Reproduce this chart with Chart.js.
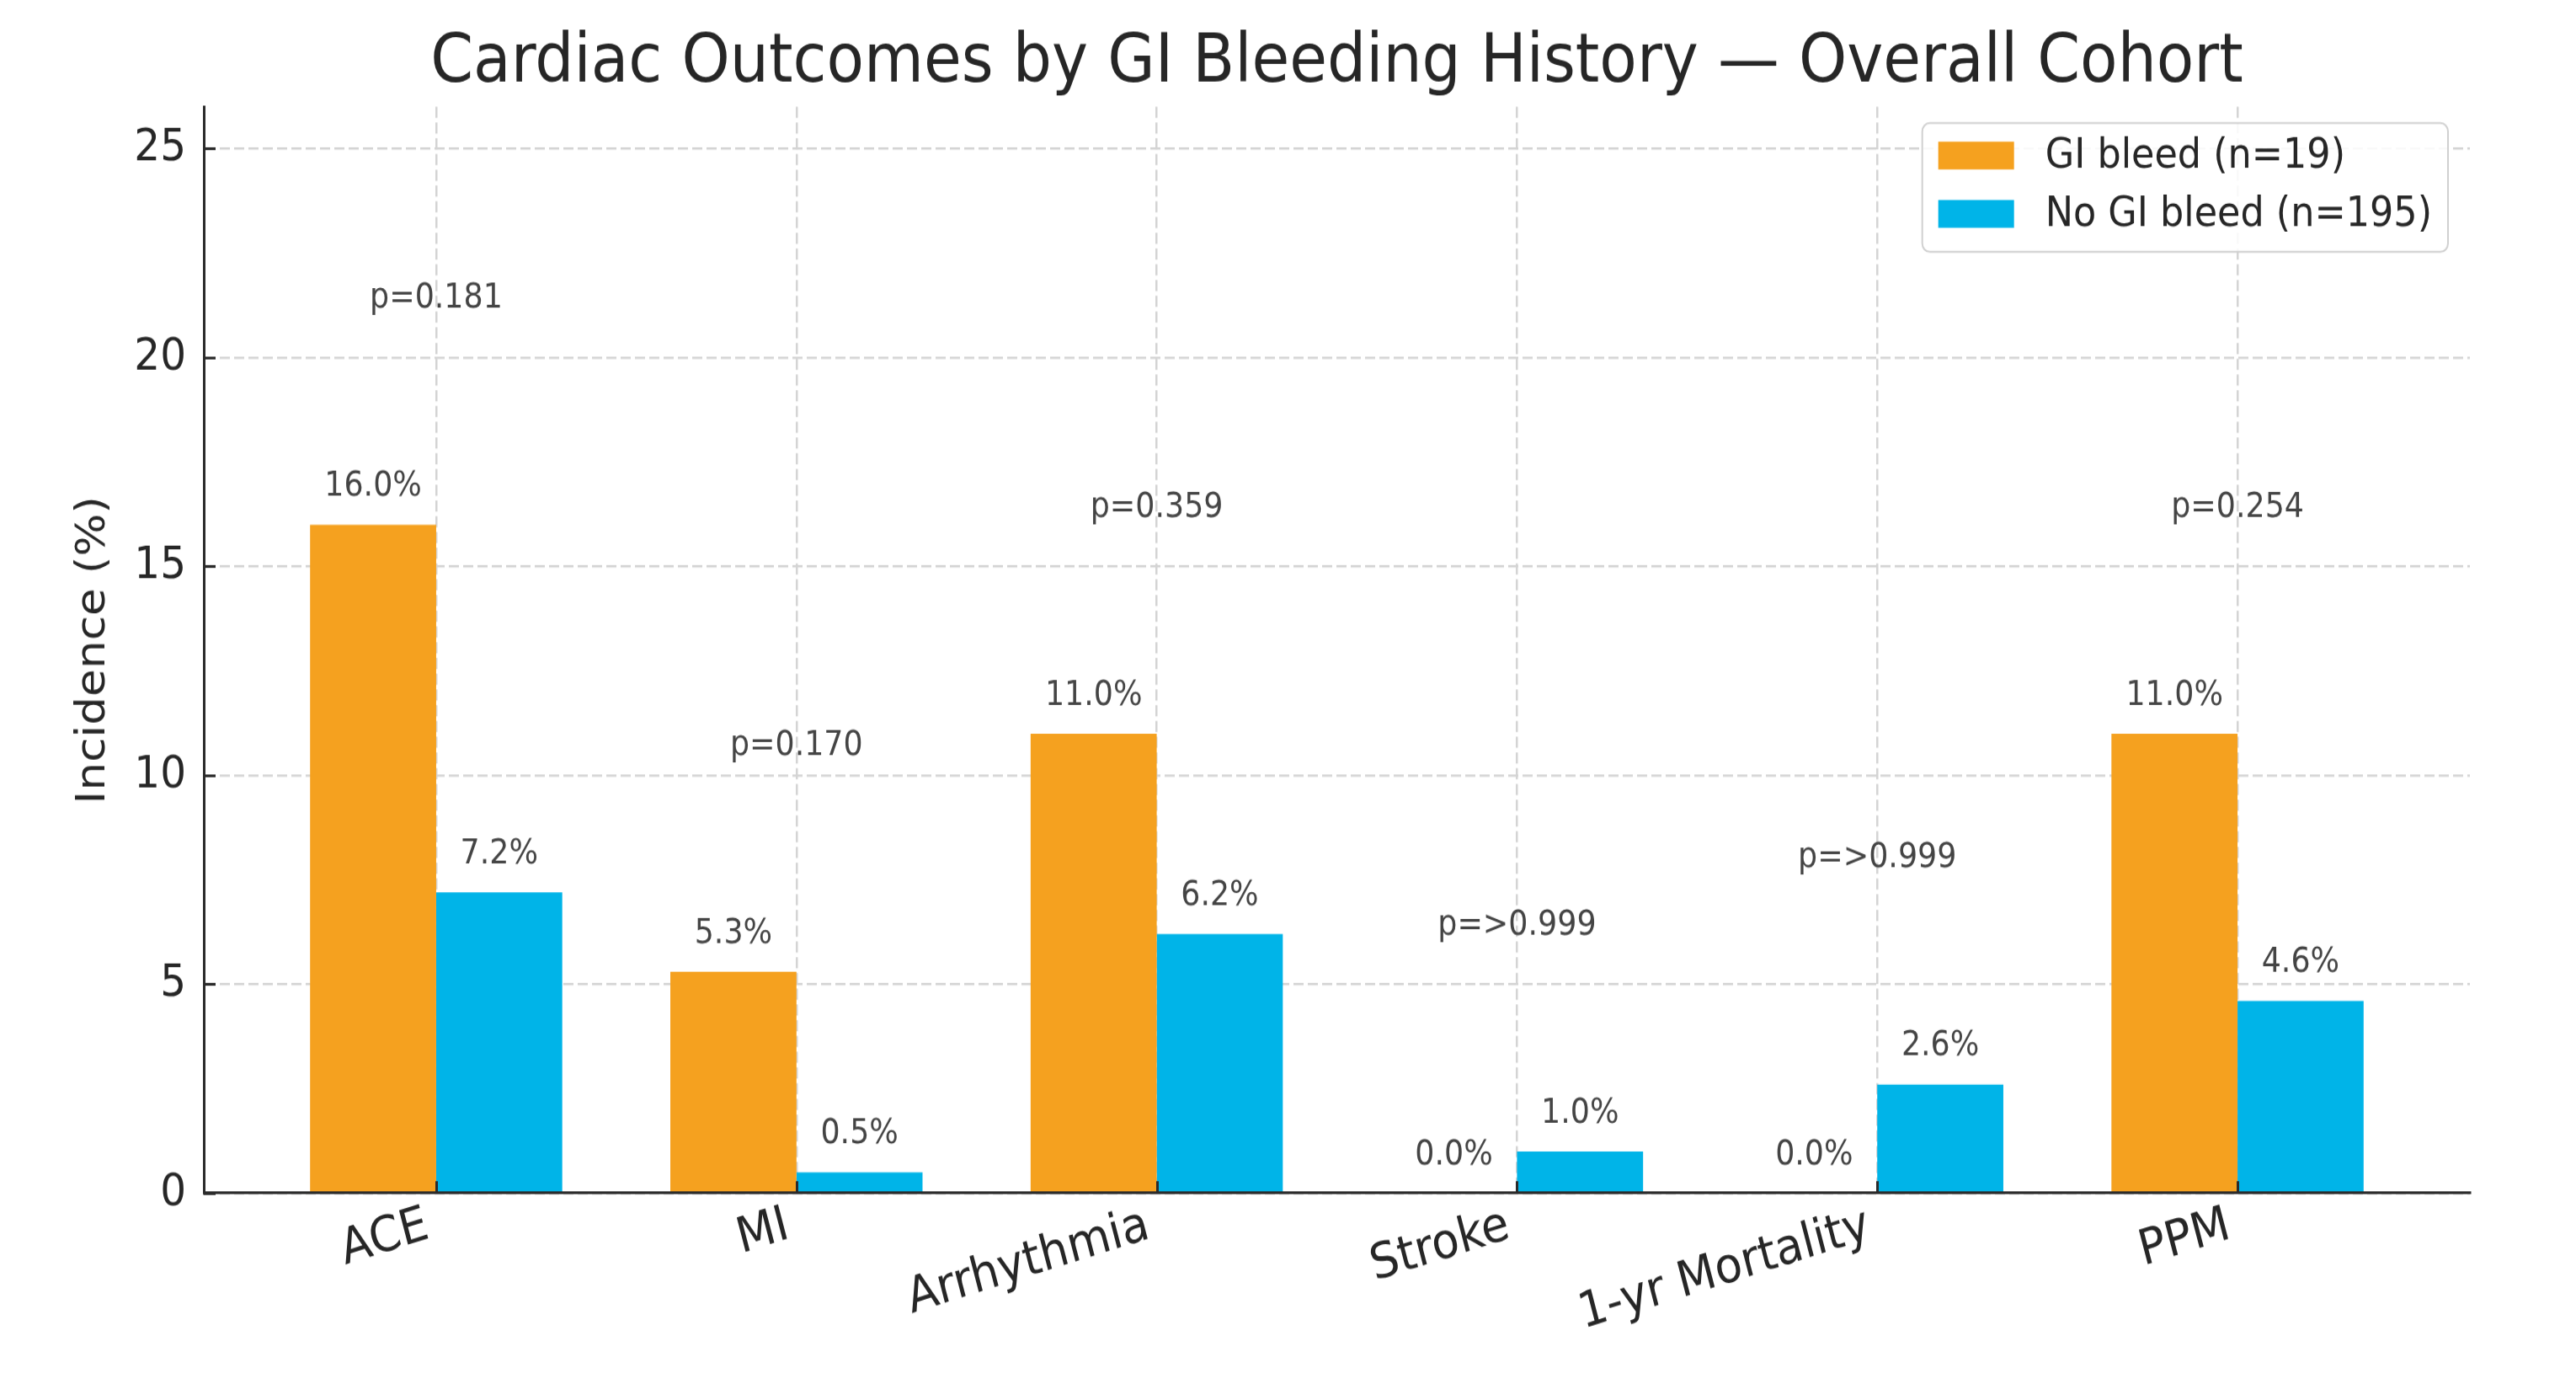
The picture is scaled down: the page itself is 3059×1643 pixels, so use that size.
<!DOCTYPE html>
<html>
<head>
<meta charset="utf-8">
<script src="https://cdn.jsdelivr.net/npm/chart.js@4.4.1/dist/chart.umd.min.js"></script>
<style>
  html, body { margin: 0; padding: 0; background: #fff; }
  #chart { display: block; }
</style>
</head>
<body>
<canvas id="chart" width="3059" height="1494" style="width:3059px;height:1643px"></canvas>
<script>
const categories = ['ACE', 'MI', 'Arrhythmia', 'Stroke', '1-yr Mortality', 'PPM']
const giBleed = [16.0, 5.3, 11.0, 0.0, 0.0, 11.0]
const noGiBleed = [7.2, 0.5, 6.2, 1.0, 2.6, 4.6]
const pValues = ['0.181', '0.170', '0.359', '>0.999', '>0.999', '0.254']
const seriesLabels = ['GI bleed (n=19)', 'No GI bleed (n=195)']
const seriesColors = ['#F5A11F', '#00B4E8']

const FONT = "'DejaVu Sans', sans-serif"
const DARK = '#262626'

// labels over the bars, p-values, inward tick marks and the framed legend
const annotate = {
  id: 'annotate',
  afterDatasetsDraw(chart) {
    const ctx = chart.ctx
    const area = chart.chartArea
    const { x, y } = chart.scales
    ctx.save()
    ctx.strokeStyle = '#2b2b2b'
    ctx.lineWidth = 3
    ctx.beginPath()
    y.ticks.forEach(t => {
      const py = Math.round(y.getPixelForValue(t.value)) + 0.5
      ctx.moveTo(area.left, py)
      ctx.lineTo(area.left + 14, py)
    })
    x.ticks.forEach(t => {
      const px = Math.round(x.getPixelForValue(t.value)) + 0.5
      ctx.moveTo(px, area.bottom)
      ctx.lineTo(px, area.bottom - 13)
    })
    ctx.stroke()

    ctx.fillStyle = '#444'
    ctx.font = `36.4px ${FONT}`
    ctx.textAlign = 'center'
    ctx.textBaseline = 'bottom'
    chart.data.datasets.forEach((ds, di) => {
      const meta = chart.getDatasetMeta(di)
      ds.data.forEach((pt, i) => {
        ctx.fillText(pt.y.toFixed(1) + '%', meta.data[i].x, y.getPixelForValue(pt.y + 0.5))
      })
    })
    categories.forEach((c, i) => {
      const top = Math.max(giBleed[i], noGiBleed[i])
      ctx.fillText('p=' + pValues[i], x.getPixelForValue(i), y.getPixelForValue(top + 5))
    })
    ctx.restore()
  },
  afterDraw(chart) {
    const ctx = chart.ctx
    const area = chart.chartArea
    ctx.save()
    ctx.font = `44.5px ${FONT}`
    const textW = Math.max(...seriesLabels.map(s => ctx.measureText(s).width))
    const w = 146 + textW + 19
    const h = 139
    const left = area.right - 26 - w
    const top = area.top + 17.5
    ctx.fillStyle = 'rgba(255,255,255,0.85)'
    ctx.strokeStyle = '#d0d0d0'
    ctx.lineWidth = 2
    ctx.beginPath()
    ctx.roundRect(left, top, w, h, 9)
    ctx.fill()
    ctx.stroke()
    ctx.textAlign = 'left'
    ctx.textBaseline = 'middle'
    chart.data.datasets.forEach((ds, i) => {
      const cy = top + 35 + i * 63
      ctx.fillStyle = ds.backgroundColor
      ctx.fillRect(left + 19, cy - 15, 90, 30)
      ctx.fillStyle = DARK
      ctx.fillText(ds.label, left + 146, cy + 2)
    })
    ctx.restore()
  }
}

new Chart(document.getElementById('chart'), {
  type: 'bar',
  data: {
    datasets: [
      {
        label: seriesLabels[0],
        data: categories.map((c, i) => ({ x: i, y: giBleed[i] })),
        backgroundColor: seriesColors[0]
      },
      {
        label: seriesLabels[1],
        data: categories.map((c, i) => ({ x: i, y: noGiBleed[i] })),
        backgroundColor: seriesColors[1]
      }
    ]
  },
  options: {
    responsive: false,
    devicePixelRatio: 1,
    animation: false,
    categoryPercentage: 0.7,
    barPercentage: 1.0,
    layout: { padding: { left: 0, right: 126, top: 0, bottom: 0 } },
    plugins: {
      legend: { display: false },
      tooltip: { enabled: false },
      title: {
        display: true,
        fullSize: false,
        text: 'Cardiac Outcomes by GI Bleeding History — Overall Cohort',
        color: DARK,
        font: { family: FONT, size: 72.8, weight: 'normal' },
        padding: { top: 25, bottom: 3 }
      }
    },
    scales: {
      x: {
        type: 'linear',
        offset: false,
        min: -0.645,
        max: 5.645,
        afterFit: s => { s.height = 206 },
        grid: { color: '#d4d4d4', lineWidth: 2.5, drawTicks: false, offset: false },
        border: { display: true, color: '#2b2b2b', width: 3, dash: [12, 5], z: 1 },
        ticks: {
          stepSize: 1,
          includeBounds: false,
          autoSkip: false,
          minRotation: 16,
          maxRotation: 16,
          padding: 4,
          labelOffset: -10,
          color: DARK,
          font: { family: FONT, size: 53 },
          callback: v => categories[v] ?? ''
        }
      },
      y: {
        min: 0,
        max: 26,
        afterFit: s => { s.width = 242 },
        grid: { color: '#d4d4d4', lineWidth: 2.5, drawTicks: false },
        border: { display: true, color: '#2b2b2b', width: 3, dash: [12, 5], z: 1 },
        ticks: {
          stepSize: 5,
          includeBounds: false,
          padding: 21,
          color: DARK,
          font: { family: FONT, size: 48.5 }
        },
        title: {
          display: true,
          text: 'Incidence (%)',
          color: DARK,
          font: { family: FONT, size: 48.5 },
          padding: { top: 82, bottom: 0 }
        }
      }
    }
  },
  plugins: [annotate]
})
</script>
</body>
</html>
